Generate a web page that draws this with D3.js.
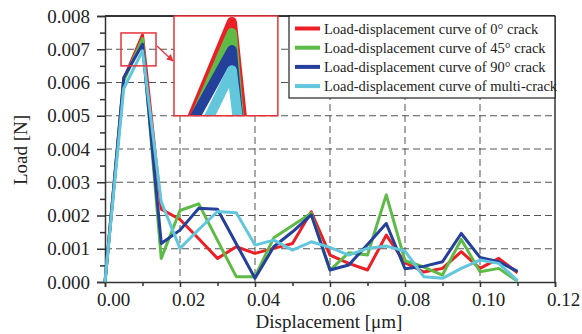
<!DOCTYPE html>
<html><head><meta charset="utf-8">
<script src="https://cdn.jsdelivr.net/npm/d3@7"></script>
<style>body{margin:0;background:#fff}svg{display:block}svg text{font-family:"Liberation Serif","Times New Roman",serif !important;fill:#222}</style>
</head><body><svg id="c" width="582" height="334"></svg>
<script>
const disp = [0,0.005,0.010,0.015,0.020,0.025,0.030,0.035,0.040,0.045,0.050,0.055,0.060,0.065,0.070,0.075,0.080,0.085,0.090,0.095,0.100,0.105,0.110];
const load0   = [0,6.10,7.43,2.19,1.88,1.30,0.71,1.06,0.86,1.01,1.16,2.11,0.81,0.56,0.36,1.41,0.58,0.30,0.41,0.91,0.41,0.71,0.28];
const load45  = [0,6.05,7.32,0.71,2.15,2.35,1.25,0.16,0.16,1.33,1.70,2.07,0.36,0.88,0.81,2.62,0.64,0.45,0.21,1.28,0.31,0.41,0.02];
const load90  = [0,6.15,7.15,1.16,1.56,2.22,2.19,1.15,0.11,1.06,1.51,2.02,0.36,0.51,1.13,1.76,0.40,0.47,0.61,1.46,0.74,0.61,0.32];
const loadMul = [0,5.82,6.95,2.41,1.01,1.58,2.12,2.08,1.11,1.26,0.96,1.21,1.04,0.81,1.01,1.08,0.93,0.16,0.11,0.41,0.66,0.56,0.04];
const seriesNames = ["Load-displacement curve of 0° crack","Load-displacement curve of 45° crack","Load-displacement curve of 90° crack","Load-displacement curve of multi-crack"];
const seriesColors = ["#ec1f26","#5dbb46","#24409a","#62c6dd"];
const xTicks = [0,0.02,0.04,0.06,0.08,0.10,0.12];
const yTicks = [0,0.001,0.002,0.003,0.004,0.005,0.006,0.007,0.008];
const insetSrcX = [0.00427,0.0136], insetSrcY = [0.0065,0.00749];
const insetViewX = [0.0048,0.01413];
const insetDstX = [0.0184,0.0461], insetDstY = [0.005,0.008];

const svg = d3.select("#c");
const L=105,R=555,T=16,B=282;
const x = d3.scaleLinear().domain([0,0.12]).range([L,R]);
const y = d3.scaleLinear().domain([0,0.008]).range([B,T]);
const all = [load0,load45,load90,loadMul].map(a=>a.map((v,i)=>({x:disp[i],y:v/1000})));
const serif = '"Liberation Serif","Times New Roman",serif';

// grid
const grid = svg.append("g").attr("stroke","#555").attr("stroke-width",1).attr("stroke-dasharray","7,4");
xTicks.filter(t=>t>0&&t<0.12).forEach(t=>grid.append("line").attr("x1",x(t)).attr("x2",x(t)).attr("y1",T).attr("y2",B));
yTicks.filter(t=>t>0&&t<0.008).forEach(t=>grid.append("line").attr("x1",L).attr("x2",R).attr("y1",y(t)).attr("y2",y(t)));

// axes
const xAxis = d3.axisBottom(x).tickValues(xTicks).tickFormat(d3.format(".2f")).tickSize(5).tickPadding(6);
const gx = svg.append("g").attr("transform",`translate(0,${B})`).call(xAxis);
gx.selectAll("text").attr("dx",8);
const xMinor = d3.axisBottom(x).tickValues(d3.range(0.01,0.12,0.02)).tickFormat("").tickSize(4);
svg.append("g").attr("transform",`translate(0,${B})`).call(xMinor).select(".domain").remove();
const yAxis = d3.axisLeft(y).tickValues(yTicks).tickFormat(d3.format(".3f")).tickSize(8).tickPadding(7);
const gy = svg.append("g").attr("transform",`translate(${L},0)`).call(yAxis);
const yMinor = d3.axisLeft(y).tickValues(d3.range(0.0005,0.008,0.001)).tickFormat("").tickSize(5);
svg.append("g").attr("transform",`translate(${L},0)`).call(yMinor).select(".domain").remove();
svg.selectAll("g").attr("font-family",serif);
svg.selectAll(".tick text").style("font-family",serif).style("font-size","19px").attr("fill","#222");
svg.selectAll(".domain, .tick line").attr("stroke","#333").attr("stroke-width",1.5);
svg.append("line").attr("x1",L).attr("x2",R).attr("y1",T).attr("y2",T).attr("stroke","#333").attr("stroke-width",1.8);
svg.append("line").attr("x1",R).attr("x2",R).attr("y1",T).attr("y2",B).attr("stroke","#333").attr("stroke-width",1.5);

// lines
const line = d3.line().x(d=>x(d.x)).y(d=>y(d.y));
const lg = svg.append("g");
all.forEach((s,i)=>lg.append("path").datum(s).attr("d",line).attr("fill","none")
  .attr("stroke",seriesColors[i]).attr("stroke-width",3).attr("stroke-linejoin","round"));

// inset
const sx0=x(insetSrcX[0]), sx1=x(insetSrcX[1]), sy0=y(insetSrcY[1]), sy1=y(insetSrcY[0]);
const vx0=x(insetViewX[0]), vx1=x(insetViewX[1]);
const dx0=x(insetDstX[0]), dx1=x(insetDstX[1]), dy0=y(insetDstY[1]), dy1=y(insetDstY[0]);
svg.append("rect").attr("x",sx0).attr("y",sy0).attr("width",sx1-sx0).attr("height",sy1-sy0)
  .attr("fill","none").attr("stroke","#e8333a").attr("stroke-width",1.5);
svg.append("defs").html(`<clipPath id="ic"><rect x="${dx0}" y="${dy0}" width="${dx1-dx0}" height="${dy1-dy0}"/></clipPath>
<marker id="ar" viewBox="0 0 10 10" refX="9" refY="5" markerWidth="7" markerHeight="7" orient="auto-start-reverse" markerUnits="userSpaceOnUse"><path d="M0,0L10,5L0,10z" fill="#e8333a"/></marker>`);
svg.append("rect").attr("x",dx0).attr("y",dy0).attr("width",dx1-dx0).attr("height",dy1-dy0).attr("fill","#fff");
const ig = svg.append("g").attr("clip-path","url(#ic)").append("g")
  .attr("transform",`translate(${dx0},${dy0}) scale(${(dx1-dx0)/(vx1-vx0)},${(dy1-dy0)/(sy1-sy0)}) translate(${-vx0},${-sy0})`);
all.forEach((s,i)=>ig.append("path").datum(s).attr("d",line).attr("fill","none")
  .attr("stroke",seriesColors[i]).attr("stroke-width",3.4).attr("stroke-linejoin","round").attr("stroke-linecap","round"));
svg.append("rect").attr("x",dx0).attr("y",dy0).attr("width",dx1-dx0).attr("height",dy1-dy0)
  .attr("fill","none").attr("stroke","#e8333a").attr("stroke-width",1.5);
svg.append("line").attr("x1",sx1+1).attr("y1",sy0+13).attr("x2",dx0-1).attr("y2",sy0+28)
  .attr("stroke","#e8333a").attr("stroke-width",1.3).attr("marker-end","url(#ar)");

// legend
const lgX=289, lgY=T, lgW=R-289, lgH=82;
svg.append("rect").attr("x",lgX).attr("y",lgY).attr("width",lgW).attr("height",lgH).attr("fill","#fff").attr("stroke","#222").attr("stroke-width",1.2);
seriesNames.forEach((n,i)=>{
  const yy = lgY+12.5+i*19.2;
  svg.append("line").attr("x1",lgX+6).attr("x2",lgX+31).attr("y1",yy).attr("y2",yy).attr("stroke",seriesColors[i]).attr("stroke-width",4);
  svg.append("text").attr("x",lgX+35).attr("y",yy+5).style("font-size","14.5px").text(n);
});

// titles
svg.append("text").attr("x",329).attr("y",328).attr("text-anchor","middle").style("font-size","19px").text("Displacement [μm]");
svg.append("text").attr("transform","translate(27,150) rotate(-90)").attr("text-anchor","middle").style("font-size","19px").text("Load [N]");
</script></body></html>
